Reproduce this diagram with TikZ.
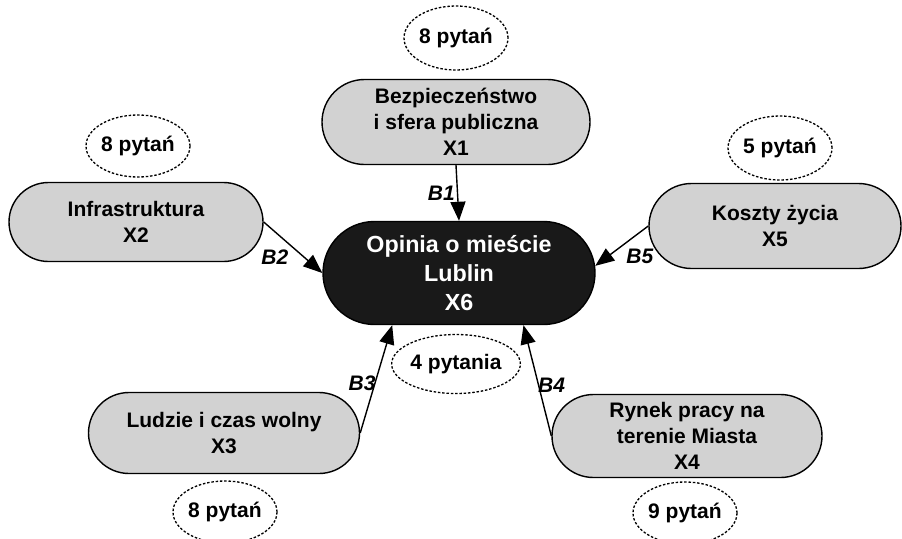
\documentclass[tikz,border=0pt]{standalone}
\usepackage{fontspec}
\setmainfont{Liberation Sans}
\usetikzlibrary{shapes.misc,shapes.geometric,arrows.meta}
\begin{document}
\begin{tikzpicture}[x=1pt,y=-1pt,
  topic/.style={rounded rectangle, draw=black, line width=1.4pt, fill=gray!35,
    align=center, font=\fontsize{21}{26}\selectfont\bfseries, inner sep=0pt},
  core/.style={rounded rectangle, draw=black, line width=1.4pt, fill=black!90,
    text=white, align=center, font=\fontsize{23.3}{29}\selectfont\bfseries, inner sep=0pt},
  count/.style={ellipse, draw=black, dash pattern=on 2.5pt off 1.8pt, line width=1.3pt,
    font=\fontsize{21}{25}\selectfont\bfseries, inner sep=0pt},
  link/.style={line width=1.4pt, -{Triangle[length=19pt,width=15pt]}},
  blab/.style={font=\fontsize{21}{25}\selectfont\bfseries\itshape, inner sep=2pt}
]
\useasboundingbox (0,0) rectangle (902,538);

\node[core, minimum width=272pt, minimum height=103pt] (X6) at (459,273)
  {Opinia o mieście\\Lublin\\X6};
\node[topic, minimum width=268pt, minimum height=85pt] (X1) at (456,122)
  {Bezpieczeństwo\\i sfera publiczna\\X1};
\node[topic, minimum width=254pt, minimum height=79pt] (X2) at (136,222)
  {Infrastruktura\\X2};
\node[topic, minimum width=252pt, minimum height=85pt] (X5) at (775,226)
  {Koszty życia\\X5};
\node[topic, minimum width=271pt, minimum height=81pt] (X3) at (224,433)
  {Ludzie i czas wolny\\X3};
\node[topic, minimum width=270pt, minimum height=83pt] (X4) at (687,436)
  {Rynek pracy na\\terenie Miasta\\X4};

\node[count, minimum width=93pt, minimum height=64pt] (C1) at (456,38) {8 pytań};
\node[count, minimum width=93pt, minimum height=62pt] (C2) at (138,146) {8 pytań};
\node[count, minimum width=94pt, minimum height=64pt] (C5) at (780,148) {5 pytań};
\node[count, minimum width=96pt, minimum height=62pt] (C3) at (225,512) {8 pytań};
\node[count, minimum width=96pt, minimum height=62pt] (C4) at (685,513) {9 pytań};
\node[count, minimum width=115pt, minimum height=59pt] (C6) at (456,364) {4 pytania};

\draw[link] (X1.south) -- node[blab, midway, left] {B1} (X6.north);
\draw[link] (X2.east) -- node[blab, midway, below left, xshift=-2pt] {B2} (X6.west);
\draw[link] (X5.west) -- node[blab, midway, below right, xshift=2pt] {B5} (X6.3);
\draw[link] (X3.east) -- node[blab, midway, left, xshift=2pt, yshift=-4pt] {B3} (X6.218);
\draw[link] (X4.west) -- node[blab, midway, right, xshift=-2pt, yshift=-5pt] {B4} (X6.321);
\end{tikzpicture}
\end{document}
